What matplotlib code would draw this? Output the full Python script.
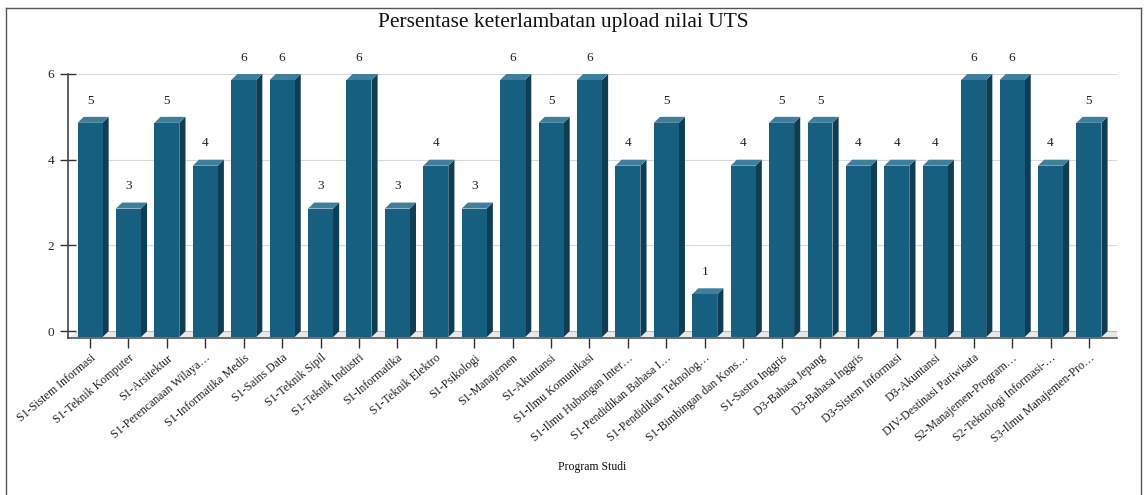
import matplotlib
matplotlib.use("Agg")
import matplotlib.pyplot as plt
from matplotlib.patches import Polygon
from matplotlib.lines import Line2D
import numpy as np

categories = ["S1-Sistem Informasi", "S1-Teknik Komputer", "S1-Arsitektur",
              "S1-Perencanaan Wilaya…", "S1-Informatika Medis", "S1-Sains Data",
              "S1-Teknik Sipil", "S1-Teknik Industri", "S1-Informatika",
              "S1-Teknik Elektro", "S1-Psikologi", "S1-Manajemen", "S1-Akuntansi",
              "S1-Ilmu Komunikasi", "S1-Ilmu Hubungan Inter…", "S1-Pendidikan Bahasa I…",
              "S1-Pendidikan Teknolog…", "S1-Bimbingan dan Kons…", "S1-Sastra Inggris",
              "D3-Bahasa Jepang", "D3-Bahasa Inggris", "D3-Sistem Informasi",
              "D3-Akuntansi", "DIV-Destinasi Pariwisata", "S2-Manajemen-Program…",
              "S2-Teknologi Informasi-…", "S3-Ilmu Manajemen-Pro…"]
values = [5, 3, 5, 4, 6, 6, 3, 6, 3, 4, 3, 6, 5, 6, 4, 5, 1, 4, 5, 5, 4, 4, 4, 6, 6, 4, 5]
yticks = [0, 2, 4, 6]
title = "Persentase keterlambatan upload nilai UTS"
xlabel = "Program Studi"

plt.rcParams['font.family'] = ['Liberation Serif', 'DejaVu Serif']

W, H = 1145, 495
fig = plt.figure(figsize=(W / 100, H / 100), dpi=100)
ax = fig.add_axes([68 / W, 1 - 338 / H, (1117 - 68) / W, (338 - 74) / H])

front = "#165f80"
side = "#0e3d54"
top = "#3e7f9c"
w = 0.65
dx, dy = 0.16, 0.14
x = np.arange(len(categories))
xmin, xmax = -0.573, 26.73
ax.set_xlim(xmin, xmax)
ax.set_ylim(-dy - 0.02, 6)

# grid lines on back plane
for t in yticks[1:]:
    ax.plot([xmin + 0.26, xmax], [t, t], color="#d9d9d9", lw=0.8, zorder=0)

# floor
floor = Polygon([(xmin, -dy - 0.02), (xmin + 0.26, 0), (xmax, 0), (xmax, -dy - 0.02)],
                closed=True, facecolor="#e8e8e8", edgecolor="none", zorder=1)
ax.add_patch(floor)
ax.plot([xmin, xmax], [-dy - 0.02, -dy - 0.02], color="#555555", lw=1.2, zorder=2,
        clip_on=False)
ax.plot([xmin + 0.26, xmax], [0, 0], color="#bbbbbb", lw=0.8, zorder=1)

bars = ax.bar(x, values, bottom=-dy, width=w, color=front, zorder=4)
for xi, v in zip(x, values):
    r = xi + w / 2
    l = xi - w / 2
    ax.add_patch(Polygon([(r, -dy), (r + dx, 0), (r + dx, v), (r, v - dy)],
                         closed=True, facecolor=side, edgecolor="none", zorder=3))
    ax.add_patch(Polygon([(l, v - dy), (l + dx, v), (r + dx, v), (r, v - dy)],
                         closed=True, facecolor=top, edgecolor="none", zorder=3,
                         clip_on=False))
    ax.text(xi, v + 0.38, str(v), ha="center", va="center", fontsize=9.5,
            color="#222222", clip_on=False)

ax.set_xticks(x)
ax.set_xticklabels(categories, rotation=40, ha="right", rotation_mode="anchor",
                   fontsize=8.6, color="#222222")
ax.set_yticks(yticks)
ax.set_yticklabels([str(t) for t in yticks], fontsize=9.5, color="#222222")
ax.tick_params(axis="x", length=7, width=1, color="#333333", pad=3)
ax.tick_params(axis="y", direction="inout", length=12, width=1, color="#333333", pad=4)
for s in ["top", "right", "bottom"]:
    ax.spines[s].set_visible(False)
ax.spines["left"].set_color("#444444")
ax.spines["left"].set_linewidth(1.2)
ax.set_facecolor("none")

fig.text(563 / W, 1 - 22 / H, title, ha="center", va="center", fontsize=15.4, color="#111111")
fig.text(592 / W, 1 - 467 / H, xlabel, ha="center", va="center", fontsize=8.5, color="#111111")

bx0, bx1, by = 5.5 / W, 1140.5 / W, 1 - 7.5 / H
for xs, ys in [([bx0, bx1], [by, by]), ([bx0, bx0], [by, -0.01]), ([bx1, bx1], [by, -0.01])]:
    fig.lines.append(Line2D(xs, ys, transform=fig.transFigure, color="#555555", lw=1.0))

fig.savefig("out.png", dpi=100)
